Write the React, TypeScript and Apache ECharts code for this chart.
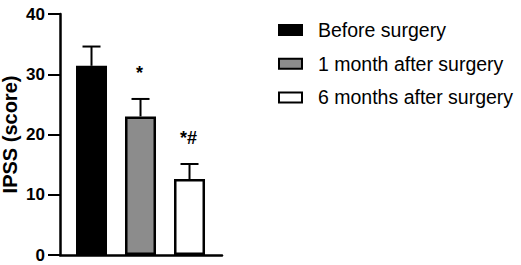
import React, { useEffect, useRef } from "react";
import * as echarts from "echarts";

const groups = ["Before surgery", "1 month after surgery", "6 months after surgery"];
const means = [31.4, 23.0, 12.6];
const errTops = [34.6, 25.9, 15.1];
const marks = ["", "*", "*#"];
const fills = ["#000000", "#8c8c8c", "#ffffff"];
const yTicks = [0, 10, 20, 30, 40];

const FONT = "'Liberation Sans', Arial, Helvetica, sans-serif";

export default function App() {
  const ref = useRef<HTMLDivElement>(null);
  useEffect(() => {
    if (!ref.current) return;
    const chart = echarts.init(ref.current, null, { renderer: "svg" });
    const barSeries = groups.map((g, i) => ({
      name: g,
      type: "bar",
      barWidth: 31,
      barGap: "-100%",
      data: [[i + 1, means[i]]],
      itemStyle: { color: fills[i], borderColor: "#000", borderWidth: 2.5 },
      z: 2,
    }));
    const errData = groups.map((_, i) => [i + 1, means[i], errTops[i], marks[i]]);
    chart.setOption({
      animation: false,
      textStyle: { fontFamily: FONT },
      grid: { left: 60, right: 299, top: 14, bottom: 10, outerBoundsMode: "none" },
      legend: {
        orient: "vertical",
        left: 278,
        top: 20,
        padding: 0,
        itemWidth: 23,
        itemHeight: 10,
        itemGap: 13.7,
        icon: "rect",
        data: groups,
        textStyle: {
          fontFamily: FONT,
          fontSize: 19.5,
          color: "#000",
          lineHeight: 20,
          padding: [0, 0, 0, 11],
        },
      },
      xAxis: {
        type: "value",
        min: 0.357,
        max: 3.663,
        axisLine: { show: true, lineStyle: { color: "#000", width: 2.5 } },
        axisTick: { show: false },
        axisLabel: { show: false },
        splitLine: { show: false },
      },
      yAxis: {
        type: "value",
        min: yTicks[0],
        max: yTicks[yTicks.length - 1],
        interval: 10,
        name: "IPSS (score)",
        nameLocation: "middle",
        nameRotate: 90,
        nameGap: 40,
        nameTextStyle: { fontFamily: FONT, fontSize: 20, fontWeight: "bold", color: "#000" },
        axisLine: { show: true, lineStyle: { color: "#000", width: 2.5 } },
        axisTick: { show: true, length: 12, lineStyle: { color: "#000", width: 2 } },
        axisLabel: { fontFamily: FONT, fontSize: 17, fontWeight: "bold", color: "#000", margin: 15 },
        splitLine: { show: false },
      },
      series: [
        ...barSeries,
        {
          type: "custom",
          name: "err",
          z: 3,
          data: errData,
          renderItem: (params: any, api: any) => {
            const x = api.value(0);
            const base = api.coord([x, api.value(1)]);
            const top = api.coord([x, api.value(2)]);
            const mark = marks[params.dataIndex];
            const children: any[] = [
              {
                type: "line",
                shape: { x1: base[0], y1: base[1], x2: top[0], y2: top[1] },
                style: { stroke: "#000", lineWidth: 2 },
              },
              {
                type: "line",
                shape: { x1: top[0] - 9, y1: top[1], x2: top[0] + 9, y2: top[1] },
                style: { stroke: "#000", lineWidth: 2 },
              },
            ];
            if (mark) {
              children.push({
                type: "text",
                x: top[0] - 1,
                y: top[1] - 26,
                style: {
                  text: mark,
                  fontFamily: FONT,
                  fontSize: 18,
                  fontWeight: "bold",
                  fill: "#000",
                  align: "center",
                  verticalAlign: "middle",
                },
              });
            }
            return { type: "group", children };
          },
        },
      ],
    });
    return () => chart.dispose();
  }, []);
  return (
    <div
      ref={ref}
      style={{ position: "fixed", left: 0, top: 0, width: 521, height: 265, background: "#fff" }}
    />
  );
}
